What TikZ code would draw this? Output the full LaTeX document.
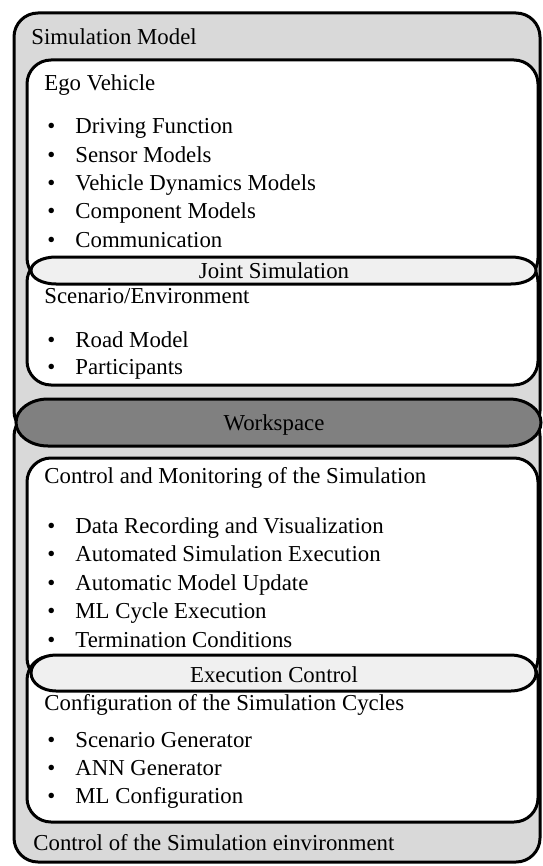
\documentclass[tikz,border=0pt]{standalone}
\usepackage{fontspec}
\setmainfont{Liberation Serif}
\usepackage{tikz}

\definecolor{envgray}{RGB}{217,217,217}
\definecolor{jointgray}{RGB}{240,240,240}
\definecolor{workgray}{RGB}{128,128,128}

\tikzset{
    frame/.style={draw=black, line width=1.5pt, rounded corners=12pt},
    heading/.style={anchor=base west, inner sep=0pt, font=\fontsize{11.4}{13}\selectfont},
    entry/.style={heading},
    bulletdot/.style={heading},
    midtext/.style={anchor=base, inner sep=0pt, font=\fontsize{11.4}{13}\selectfont}
}

% capsule with elliptic ends: x1, y1, x2, y2, end radius, fill
\newcommand{\capsule}[6]{%
    \draw[line width=1.5pt, fill=#6] (#1+#5,#2) -- (#3-#5,#2)
        arc[start angle=90, end angle=-90, x radius=#5, y radius={(#2-#4)/2}]
        -- (#1+#5,#4)
        arc[start angle=270, end angle=90, x radius=#5, y radius={(#2-#4)/2}] -- cycle;}

\begin{document}
\begin{tikzpicture}[x=0.5pt, y=0.5pt]
    \useasboundingbox (0,0) rectangle (542,-866);

    % environment frames
    \draw[frame, fill=envgray] (14,-13) rectangle (540,-435);
    \draw[frame, fill=envgray] (14,-412) rectangle (540,-862);

    % inner boxes, filled first and outlined afterwards
    \fill[white, rounded corners=12pt] (27,-60) rectangle (538,-282);
    \fill[white, rounded corners=12pt] (27,-258) rectangle (538,-385);
    \fill[white, rounded corners=12pt] (27,-458) rectangle (538,-682);
    \fill[white, rounded corners=12pt] (27,-656) rectangle (538,-822);
    \draw[frame] (27,-60) rectangle (538,-282);
    \draw[frame] (27,-258) rectangle (538,-385);
    \draw[frame] (27,-458) rectangle (538,-682);
    \draw[frame] (27,-656) rectangle (538,-822);

    \capsule{31}{-257}{536}{-284}{25}{jointgray}
    \capsule{16}{-399}{541}{-446}{32}{workgray}
    \capsule{31}{-655}{536}{-691}{25}{jointgray}

    \node[heading] (simmodel) at (31,-45) {Simulation Model};
    \node[heading] (ego) at (44,-91) {Ego Vehicle};
    \foreach \txt [count=\i] in {Driving Function, Sensor Models, Vehicle Dynamics Models, Component Models, Communication} {
        \node[bulletdot] (ego-dot-\i) at (47,{-134-28.25*(\i-1)}) {\textbullet};
        \node[entry] (ego-\i) at (75,{-134-28.25*(\i-1)}) {\txt};
    }
    \node[midtext] (joint) at (274,-278) {Joint Simulation};

    \node[heading] (scen) at (44,-303) {Scenario/Environment};
    \foreach \txt [count=\i] in {Road Model, Participants} {
        \node[bulletdot] (scen-dot-\i) at (47,{-347-27*(\i-1)}) {\textbullet};
        \node[entry] (scen-\i) at (75,{-347-27*(\i-1)}) {\txt};
    }

    \node[midtext] (work) at (274,-430) {Workspace};

    \node[heading] (monitor) at (44,-483) {Control and Monitoring of the Simulation};
    \foreach \txt [count=\i] in {Data Recording and Visualization, Automated Simulation Execution, Automatic Model Update, ML Cycle Execution, Termination Conditions} {
        \node[bulletdot] (mon-dot-\i) at (47,{-533-28.5*(\i-1)}) {\textbullet};
        \node[entry] (mon-\i) at (75,{-533-28.5*(\i-1)}) {\txt};
    }
    \node[midtext] (exec) at (274,-682) {Execution Control};

    \node[heading] (config) at (44,-710) {Configuration of the Simulation Cycles};
    \foreach \txt [count=\i] in {Scenario Generator, ANN Generator, ML Configuration} {
        \node[bulletdot] (conf-dot-\i) at (47,{-747-28*(\i-1)}) {\textbullet};
        \node[entry] (conf-\i) at (75,{-747-28*(\i-1)}) {\txt};
    }

    \node[heading] (ctrlenv) at (33,-850) {Control of the Simulation einvironment};
\end{tikzpicture}
\end{document}
